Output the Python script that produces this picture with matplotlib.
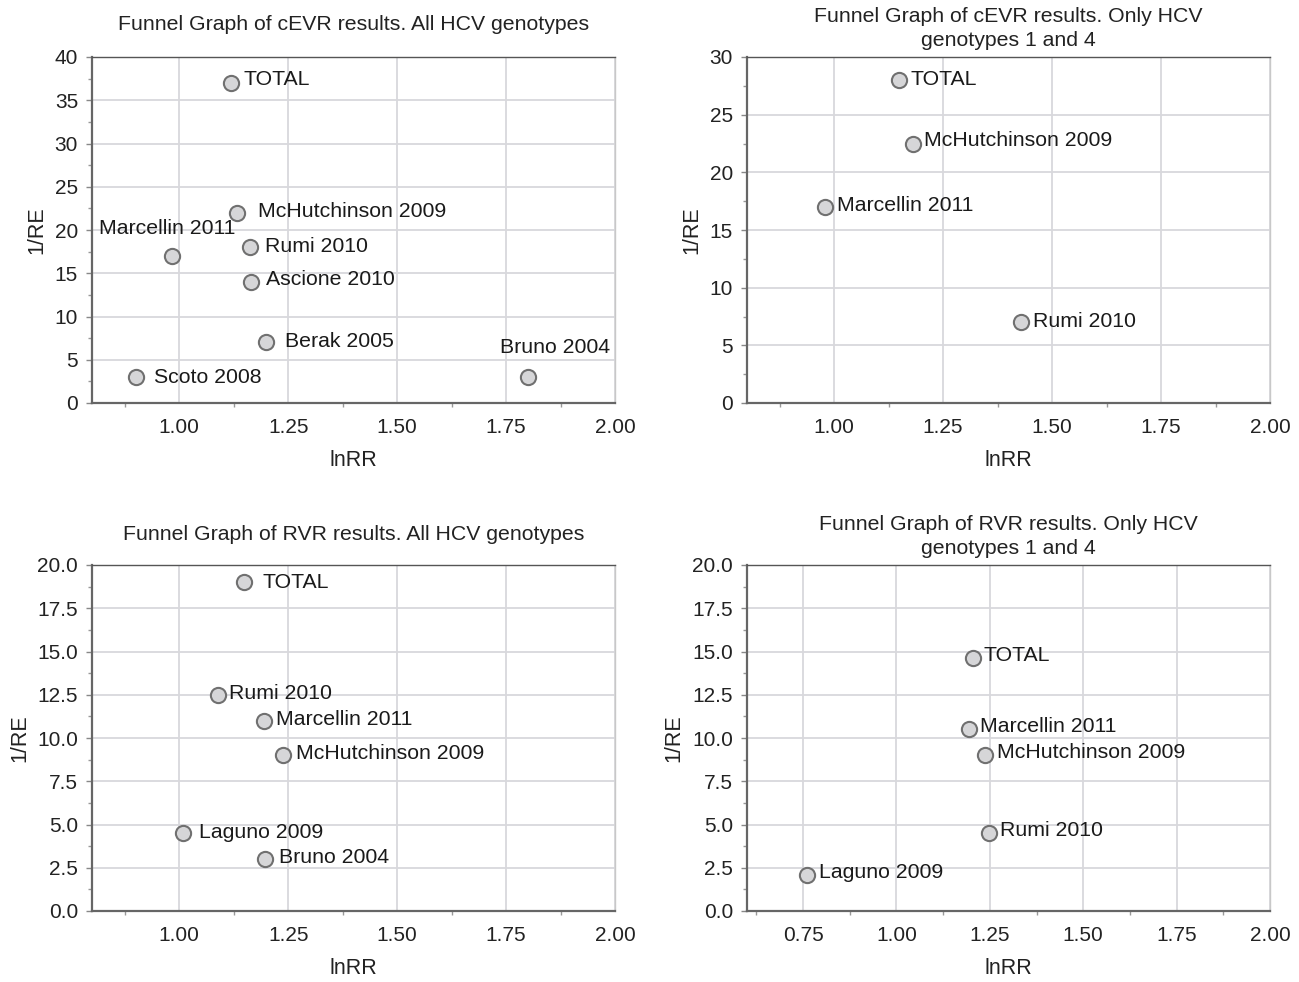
import matplotlib
matplotlib.use("Agg")
import matplotlib.pyplot as plt
from matplotlib.ticker import MultipleLocator, FormatStrFormatter

plt.rcParams['font.family'] = ['Liberation Sans', 'DejaVu Sans']

# --- data ---
cevr_all_names = ['TOTAL', 'McHutchinson 2009', 'Marcellin 2011', 'Rumi 2010',
                  'Ascione 2010', 'Berak 2005', 'Scoto 2008', 'Bruno 2004']
cevr_all_lnrr = [1.12, 1.133, 0.984, 1.163, 1.165, 1.20, 0.90, 1.80]
cevr_all_inv_re = [37, 22, 17, 18, 14, 7, 3, 3]

cevr_g14_names = ['TOTAL', 'McHutchinson 2009', 'Marcellin 2011', 'Rumi 2010']
cevr_g14_lnrr = [1.149, 1.181, 0.979, 1.429]
cevr_g14_inv_re = [28, 22.5, 17, 7]

rvr_all_names = ['TOTAL', 'Rumi 2010', 'Marcellin 2011', 'McHutchinson 2009',
                 'Laguno 2009', 'Bruno 2004']
rvr_all_lnrr = [1.149, 1.089, 1.195, 1.239, 1.009, 1.197]
rvr_all_inv_re = [19, 12.5, 11, 9, 4.5, 3]

rvr_g14_names = ['TOTAL', 'Marcellin 2011', 'McHutchinson 2009', 'Rumi 2010', 'Laguno 2009']
rvr_g14_lnrr = [1.204, 1.193, 1.236, 1.247, 0.761]
rvr_g14_inv_re = [14.6, 10.5, 9, 4.5, 2.1]

titles = ['Funnel Graph of cEVR results. All HCV genotypes',
          'Funnel Graph of cEVR results. Only HCV\ngenotypes 1 and 4',
          'Funnel Graph of RVR results. All HCV genotypes',
          'Funnel Graph of RVR results. Only HCV\ngenotypes 1 and 4']

# label offsets in pixels (dx, dy), layout only
offsets = [
    [(12, 3), (21, 1), (-5, 27), (15, 1), (15, 2), (19, 1), (18, 0), (27, 30)],
    [(11, 1), (11, 3), (12, 1), (12, 1)],
    [(18, 0), (11, 1), (12, 1), (13, 2), (16, 1), (14, 2)],
    [(11, 3), (11, 3), (12, 3), (11, 3), (12, 2)],
]
has = [
    ['left', 'left', 'center', 'left', 'left', 'left', 'left', 'center'],
    ['left'] * 4,
    ['left'] * 6,
    ['left'] * 5,
]

W, H = 1299, 982
fig = plt.figure(figsize=(W / 100, H / 100), dpi=100)

panels = [
    dict(rect=(92, 57, 615, 403), xmin=0.8, ymax=40, ystep=5, fmt='%d',
         names=cevr_all_names, x=cevr_all_lnrr, y=cevr_all_inv_re, ty=1.0925, lp=5),
    dict(rect=(747, 57, 1270, 403), xmin=0.8, ymax=30, ystep=5, fmt='%d',
         names=cevr_g14_names, x=cevr_g14_lnrr, y=cevr_g14_inv_re, ty=1.083, lp=5),
    dict(rect=(92, 565, 615, 911), xmin=0.8, ymax=20, ystep=2.5, fmt='%.1f',
         names=rvr_all_names, x=rvr_all_lnrr, y=rvr_all_inv_re, ty=1.087, lp=5),
    dict(rect=(747, 565, 1270, 911), xmin=0.6, ymax=20, ystep=2.5, fmt='%.1f',
         names=rvr_g14_names, x=rvr_g14_lnrr, y=rvr_g14_inv_re, ty=1.082, lp=6),
]

for i, p in enumerate(panels):
    l, t, r, b = p['rect']
    ax = fig.add_axes([l / W, 1 - b / H, (r - l) / W, (b - t) / H])
    ax.set_xlim(p['xmin'], 2.0)
    ax.set_ylim(0, p['ymax'])
    ax.xaxis.set_major_locator(MultipleLocator(0.25))
    ax.xaxis.set_minor_locator(MultipleLocator(0.125))
    ax.yaxis.set_major_locator(MultipleLocator(p['ystep']))
    ax.yaxis.set_minor_locator(MultipleLocator(p['ystep'] / 2))
    ax.xaxis.set_major_formatter(FormatStrFormatter('%.2f'))
    ax.yaxis.set_major_formatter(FormatStrFormatter(p['fmt']))
    ax.grid(True, which='major', color='#d8d8dc', lw=1.3)
    ax.set_axisbelow(True)
    for s in ['left', 'bottom']:
        ax.spines[s].set_color('#666666')
        ax.spines[s].set_linewidth(1.6)
    ax.spines['top'].set_color('#555555')
    ax.spines['top'].set_linewidth(1.0)
    ax.spines['right'].set_color('#c8c8c8')
    ax.spines['right'].set_linewidth(1.0)
    ax.tick_params(which='major', length=4, width=1, color='#888888',
                   labelsize=15, labelcolor='#222222', pad=6)
    ax.tick_params(which='minor', length=3, width=1, color='#999999')
    ax.tick_params(axis='x', which='major', length=0, pad=11)
    ax.set_xlabel('lnRR', fontsize=15.5, color='#222222', labelpad=9)
    ax.set_ylabel('1/RE', fontsize=15.5, color='#222222', labelpad=p['lp'])
    ax.text(0.5, p['ty'], titles[i], transform=ax.transAxes, ha='center', va='center',
            fontsize=15.3, color='#222222', linespacing=1.3)

    ax.scatter(p['x'], p['y'], s=120, facecolor='#d6d6d8', edgecolor='#707070',
               linewidth=1.5, zorder=3, clip_on=False)
    for j, name in enumerate(p['names']):
        dx, dy = offsets[i][j]
        ax.annotate(name, (p['x'][j], p['y'][j]), xytext=(dx * 0.72, dy * 0.72),
                    textcoords='offset points', ha=has[i][j], va='center',
                    fontsize=15.3, color='#1a1a1a')

fig.savefig('out.png', dpi=100)
